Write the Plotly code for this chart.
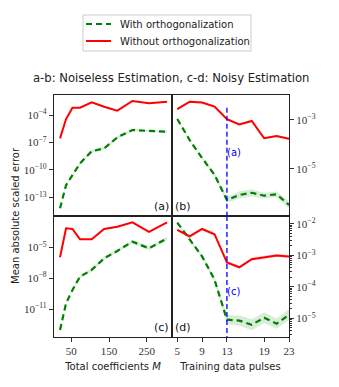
import plotly.graph_objects as go

# ---------------- data ----------------
coeffs_M = [20, 36, 53, 73, 104, 137, 172, 212, 256, 304]
pulses = [5, 7, 9, 11, 13, 15, 17, 19, 21, 23]

# (a) noiseless, vs M
a_with = [6.3e-15, 2.1e-12, 2.7e-11, 5.1e-10, 1.1e-8, 2.2e-8, 3.6e-7, 2.3e-6, 1.8e-6, 1.5e-6]
a_without = [2.8e-7, 3.6e-5, 6.3e-4, 6.3e-4, 2.5e-3, 8.1e-4, 3.0e-4, 3.4e-3, 1.9e-3, 2.9e-3]
# (b) noiseless, vs pulses
b_with = [1.1e-3, 1.5e-4, 2.8e-5, 5.8e-6, 5.4e-7, 8.7e-7, 1.07e-6, 8.1e-7, 9.3e-7, 3.4e-7]
b_without = [2.8e-3, 5.6e-3, 5.2e-3, 3.5e-3, 1.07e-3, 6.6e-4, 9.1e-4, 1.8e-4, 2.2e-4, 1.7e-4]
# (c) noisy, vs M
c_with = [9.3e-14, 3.6e-11, 7.1e-10, 1.4e-8, 6.3e-8, 8.5e-7, 4.4e-6, 3.5e-5, 7.9e-6, 7.4e-5]
c_without = [1.07e-6, 6.9e-4, 6.0e-4, 6.0e-5, 6.0e-5, 6.0e-4, 1.0e-3, 2.7e-3, 3.2e-4, 2.7e-3]
# (d) noisy, vs pulses
d_with = [1.1e-2, 3.1e-3, 9.3e-4, 1.7e-4, 9.1e-6, 8.5e-6, 6.3e-6, 1.05e-5, 6.8e-6, 1.3e-5]
d_without = [6.5e-3, 4.0e-3, 6.9e-3, 4.7e-3, 6.0e-4, 4.2e-4, 7.6e-4, 8.5e-4, 1.0e-3, 9.3e-4]

# spread factors (multiplicative) of the shaded uncertainty bands
band_with_a = [1.2, 1.2, 1.3, 1.4, 1.4, 1.5, 1.5, 1.4, 1.3, 1.3]
band_with_b = [1.1, 1.1, 1.1, 1.2, 1.3, 1.4, 1.4, 1.3, 1.3, 1.4]
band_with_c = [1.2, 1.2, 1.3, 1.4, 1.5, 1.5, 1.5, 1.5, 1.5, 1.5]
band_with_d = [1.1, 1.1, 1.15, 1.2, 1.4, 1.45, 1.5, 1.5, 1.45, 1.5]
band_without = [1.12] * 10

legend_labels = ["With orthogonalization", "Without orthogonalization"]
title_text = "a-b: Noiseless Estimation, c-d: Noisy Estimation"
xlabel_left = "Total coefficients <i>M</i>"
xlabel_right = "Training data pulses"
ylabel = "Mean absolute scaled error"
panel_labels = ["(a)", "(b)", "(c)", "(d)"]
marker_pulse = 13

x_ticks_left = [50, 150, 250]
x_ticks_right = [5, 9, 13, 19, 23]
y_ticks_a = [-13, -10, -7, -4]
y_ticks_b = [-5, -3]
y_ticks_c = [-11, -8, -5]
y_ticks_d = [-5, -4, -3, -2]

GREEN = "#008000"
RED = "#ff0000"
BLUE = "#0000ff"

W, H = 339, 387
OFF = 8  # page body margin of the html page
L, R, T, B = 54, 289, 95, 337  # target plot area in screenshot pixels
MID_X, MID_Y = 172, 216


def px_x(p):
    return (p - L) / (R - L)


def px_y(p):
    return (B - p) / (B - T)


fig = go.Figure()

panels = [
    ("x", "y", coeffs_M, a_with, a_without, band_with_a),
    ("x2", "y2", pulses, b_with, b_without, band_with_b),
    ("x3", "y3", coeffs_M, c_with, c_without, band_with_c),
    ("x4", "y4", pulses, d_with, d_without, band_with_d),
]

for i, (xa, ya, xs, yw, yo, bw) in enumerate(panels):
    for ys, bf, col in [(yw, bw, "rgba(0,128,0,0.15)"), (yo, band_without, "rgba(255,0,0,0.15)")]:
        up = [v * f for v, f in zip(ys, bf)]
        lo = [v / f for v, f in zip(ys, bf)]
        fig.add_trace(go.Scatter(
            x=list(xs) + list(xs)[::-1], y=up + lo[::-1], fill="toself",
            fillcolor=col, line=dict(width=0), mode="lines", hoverinfo="skip",
            showlegend=False, xaxis=xa, yaxis=ya))
    fig.add_trace(go.Scatter(
        x=xs, y=yw, mode="lines", line=dict(color=GREEN, width=2.2, dash="6px,4px"),
        name=legend_labels[0], showlegend=False, xaxis=xa, yaxis=ya))
    fig.add_trace(go.Scatter(
        x=xs, y=yo, mode="lines", line=dict(color=RED, width=2),
        name=legend_labels[1], showlegend=False, xaxis=xa, yaxis=ya))

# vertical marker lines
fig.add_trace(go.Scatter(x=[marker_pulse, marker_pulse], y=[10 ** -2.5, 10 ** -6.92],
                         mode="lines", line=dict(color=BLUE, width=1.3, dash="5px,3px"),
                         showlegend=False, hoverinfo="skip", xaxis="x2", yaxis="y2"))
fig.add_trace(go.Scatter(x=[marker_pulse, marker_pulse], y=[10 ** -1.75, 10 ** -5.59],
                         mode="lines", line=dict(color=BLUE, width=1.3, dash="5px,3px"),
                         showlegend=False, hoverinfo="skip", xaxis="x4", yaxis="y4"))

TICKFONT = dict(family="Liberation Serif, DejaVu Serif, serif", size=11, color="#333")
SANS = "DejaVu Sans, sans-serif"


def ytext(exps):
    return ["10<sup>\u2212%d</sup>" % (-e) for e in exps]


def xaxis(domain, anchor, ticks, rng, show_labels, title=None):
    d = dict(domain=domain, anchor=anchor, range=rng, tickvals=ticks,
             ticktext=[str(t) for t in ticks], showticklabels=show_labels,
             ticks="outside" if show_labels else "", ticklen=4, tickcolor="#333",
             showline=True, mirror=True, linecolor="#222", linewidth=1.2,
             showgrid=False, zeroline=False, tickfont=TICKFONT)
    if title:
        d["title"] = dict(text=title, standoff=6,
                          font=dict(family=SANS, size=10, color="#222"))
    return d


def yaxis(domain, anchor, exps, rng, side):
    return dict(domain=domain, anchor=anchor, type="log", range=rng,
                tickvals=[10 ** e for e in exps], ticktext=ytext(exps), side=side,
                ticks="outside", ticklen=4, tickcolor="#333",
                showline=True, mirror=True, linecolor="#222", linewidth=1.2,
                showgrid=False, zeroline=False, tickfont=TICKFONT)


xl = [0, px_x(MID_X)]
xr = [px_x(MID_X), 1]
yt = [px_y(MID_Y), 1]
yb = [0, px_y(MID_Y)]

minor_vals = []
for k in range(-6, -1):
    for m in range(2, 10):
        minor_vals.append(m * 10 ** k)

fig.update_layout(
    xaxis=xaxis(xl, "y", x_ticks_left, [4, 317], False),
    yaxis=yaxis(yt, "x", y_ticks_a, [-15.05, -1.81], "left"),
    xaxis2=xaxis(xr, "y2", x_ticks_right, [4.15, 23], False),
    yaxis2=yaxis(yt, "x2", y_ticks_b, [-6.92, -1.98], "right"),
    xaxis3=xaxis(xl, "y3", x_ticks_left, [4, 317], True, xlabel_left),
    yaxis3=yaxis(yb, "x3", y_ticks_c, [-13.72, -1.96], "left"),
    xaxis4=xaxis(xr, "y4", x_ticks_right, [4.15, 23], True, xlabel_right),
    yaxis4=yaxis(yb, "x4", y_ticks_d, [-5.59, -1.75], "right"),
)
fig.layout.yaxis4.minor = dict(tickvals=minor_vals, ticks="outside", ticklen=2,
                               tickcolor="#333", showgrid=False)

ann_font = dict(family=SANS, size=10, color="#222")
lab_font = dict(family=SANS, size=11, color="#111")


def pann(text, x, y, font, xanchor="center", **kw):
    return dict(text=text, x=px_x(x), y=px_y(y), xref="paper", yref="paper",
                xanchor=xanchor, yanchor="middle", showarrow=False, font=font, **kw)


annotations = [
    pann(title_text, 171, 78, dict(family=SANS, size=11.6, color="#222")),
    pann(ylabel, 15, 216, ann_font, textangle=-90),
    pann(panel_labels[0], 171, 206, lab_font, xanchor="right"),
    pann(panel_labels[1], 173, 206, lab_font, xanchor="left"),
    pann(panel_labels[2], 171, 327, lab_font, xanchor="right"),
    pann(panel_labels[3], 173, 327, lab_font, xanchor="left"),
    dict(text="(a)", x=marker_pulse, xref="x2", y=px_y(152), yref="paper", xanchor="left",
         yanchor="middle", xshift=-2, showarrow=False,
         font=dict(family=SANS, size=10, color=BLUE)),
    dict(text="(c)", x=marker_pulse, xref="x4", y=px_y(291), yref="paper", xanchor="left",
         yanchor="middle", xshift=-2, showarrow=False,
         font=dict(family=SANS, size=10, color=BLUE)),
    # legend texts
    pann(legend_labels[0], 118, 24, ann_font, xanchor="left"),
    pann(legend_labels[1], 118, 41, ann_font, xanchor="left"),
]

shapes = [
    dict(type="rect", xref="paper", yref="paper", x0=px_x(83), x1=px_x(251),
         y0=px_y(15), y1=px_y(51), line=dict(color="#cccccc", width=1), fillcolor="white"),
    dict(type="line", xref="paper", yref="paper", x0=px_x(86), x1=px_x(111),
         y0=px_y(24), y1=px_y(24), line=dict(color=GREEN, width=2.2, dash="6px,4px")),
    dict(type="line", xref="paper", yref="paper", x0=px_x(86), x1=px_x(111),
         y0=px_y(41), y1=px_y(41), line=dict(color=RED, width=2)),
]

fig.update_layout(
    width=W, height=H,
    margin=dict(l=L - OFF, r=W - (R - OFF), t=T - OFF, b=H - (B - OFF), autoexpand=False),
    paper_bgcolor="white", plot_bgcolor="white",
    annotations=annotations, shapes=shapes,
    showlegend=False,
)

fig.write_html("out.html")
